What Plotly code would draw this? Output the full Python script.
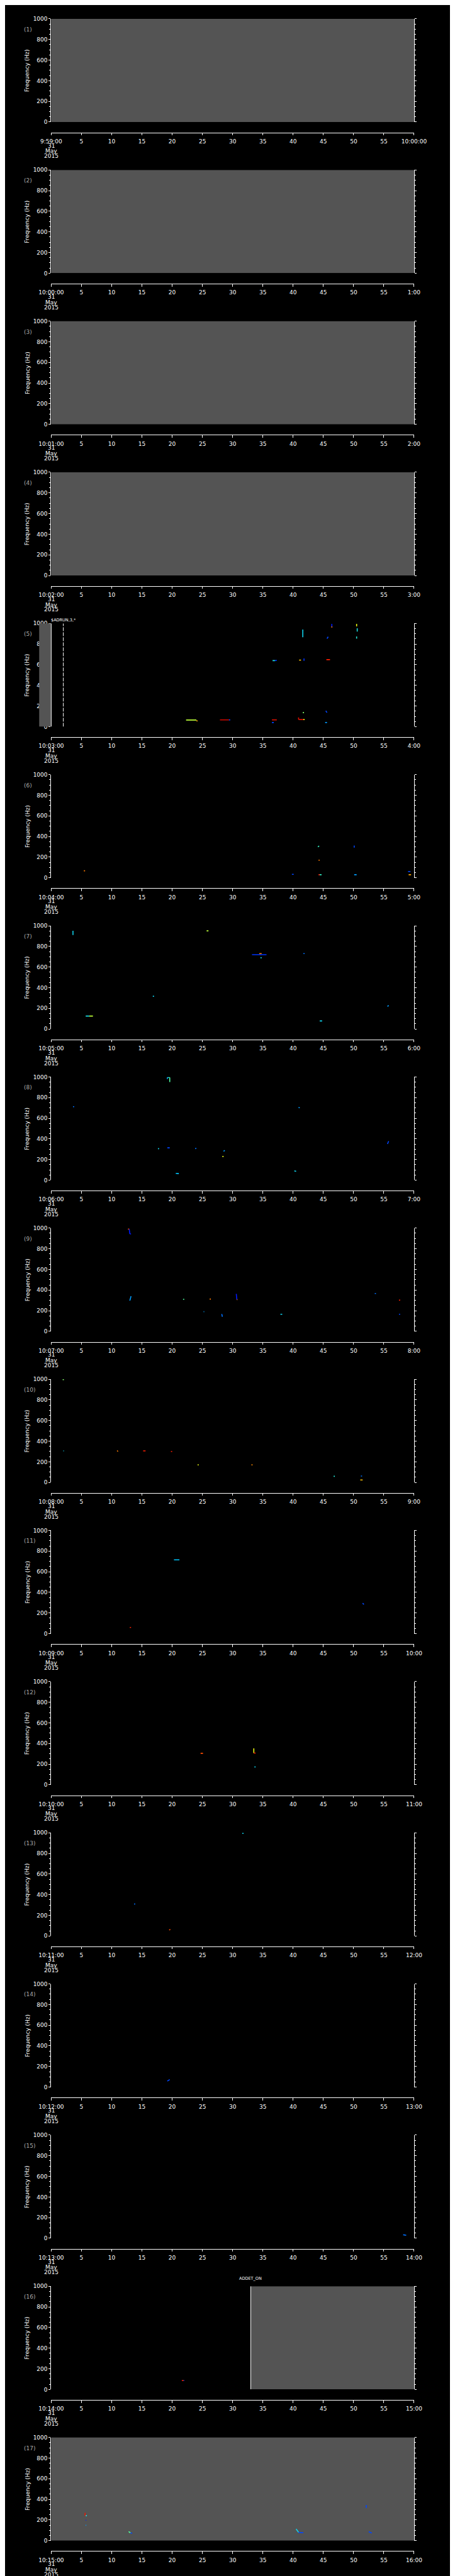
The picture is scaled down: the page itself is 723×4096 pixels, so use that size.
import plotly.graph_objects as go
from plotly.colors import sample_colorscale

# ---------------------------------------------------------------- data
panel_ids = list(range(1, 18))
start_labels = ["9:59:00", "10:00:00", "10:01:00", "10:02:00", "10:03:00", "10:04:00",
                "10:05:00", "10:06:00", "10:07:00", "10:08:00", "10:09:00", "10:10:00",
                "10:11:00", "10:12:00", "10:13:00", "10:14:00", "10:15:00"]
end_labels = ["10:00:00", "1:00", "2:00", "3:00", "4:00", "5:00", "6:00", "7:00", "8:00",
              "9:00", "10:00", "11:00", "12:00", "13:00", "14:00", "15:00", "16:00"]
sec_ticks = [0, 5, 10, 15, 20, 25, 30, 35, 40, 45, 50, 55, 60]
mid_tick_labels = ["5", "10", "15", "20", "25", "30", "35", "40", "45", "50", "55"]
date_lines = ["31", "May", "2015"]
freq_ticks = [0, 200, 400, 600, 800, 1000]
freq_range = [0, 1000]
sec_range = [0, 60]
y_title = "Frequency (Hz)"

# grey "no data" spans (seconds within each panel's minute)
nodata_spans = {1: [(0, 60)], 2: [(0, 60)], 3: [(0, 60)], 4: [(0, 60)],
                5: [(-2, 0)], 16: [(33, 60)], 17: [(0, 60)]}

# event markers: panel, second, label
event_panel = [5, 16]
event_sec = [2.0, 33.0]
event_text = ["$ADRUN,3,*", "ADDET_ON"]

# spectral marks: (t0, t1, f0, f1, level on colour scale)
marks = {
    5: [(22.3, 24.0, 64, 64, 0.6), (24.0, 24.2, 57, 55, 0.76), (27.9, 29.4, 66, 66, 0.97),
        (29.4, 29.6, 66, 66, 0.2), (36.5, 37.3, 66, 66, 0.95), (36.5, 36.8, 40, 40, 0.2),
        (40.9, 40.9, 89, 69, 0.95), (40.9, 41.7, 69, 69, 0.95), (41.7, 41.9, 69, 69, 0.65),
        (41.6, 41.8, 136, 136, 0.55), (45.4, 45.6, 153, 136, 0.2), (45.3, 45.6, 40, 40, 0.3),
        (36.6, 37.0, 640, 640, 0.4), (37.0, 37.3, 640, 642, 0.18), (41.0, 41.3, 645, 645, 0.72),
        (41.8, 41.8, 660, 638, 0.18), (45.5, 46.1, 649, 649, 0.9), (41.6, 41.6, 941, 867, 0.38),
        (45.6, 45.8, 853, 871, 0.2), (46.4, 46.4, 996, 967, 0.15), (46.3, 46.5, 965, 965, 0.8),
        (50.5, 50.5, 996, 971, 0.65), (50.6, 50.6, 953, 921, 0.4), (50.5, 50.5, 874, 853, 0.42)],
    6: [(5.4, 5.6, 68, 68, 0.8), (39.8, 40.1, 34, 34, 0.2), (44.1, 44.3, 299, 309, 0.45),
        (44.2, 44.4, 171, 171, 0.8), (44.2, 44.4, 30, 30, 0.9), (44.4, 44.7, 30, 30, 0.45),
        (50.1, 50.1, 313, 293, 0.2), (50.1, 50.5, 30, 30, 0.3), (59.0, 59.4, 61, 61, 0.2),
        (59.1, 59.5, 30, 30, 0.75)],
    7: [(3.6, 3.6, 951, 910, 0.38), (25.7, 26.0, 951, 951, 0.6), (33.2, 35.6, 720, 720, 0.18),
        (34.4, 34.8, 731, 731, 0.8), (34.6, 34.8, 690, 690, 0.38), (41.7, 41.9, 731, 731, 0.25),
        (16.8, 17.0, 317, 317, 0.38), (5.7, 6.3, 125, 125, 0.4), (6.3, 6.9, 125, 125, 0.6),
        (44.4, 44.8, 78, 78, 0.38), (55.6, 55.8, 218, 228, 0.3)],
    8: [(19.2, 19.6, 995, 995, 0.42), (19.6, 19.6, 995, 950, 0.5), (19.2, 19.2, 995, 980, 0.3),
        (3.6, 3.8, 711, 711, 0.25), (40.9, 41.1, 705, 700, 0.3), (17.7, 17.8, 310, 300, 0.38),
        (19.2, 19.6, 313, 313, 0.2), (23.8, 24.0, 305, 309, 0.25), (28.5, 28.7, 280, 288, 0.3),
        (28.3, 28.5, 229, 229, 0.65), (20.6, 21.1, 65, 63, 0.35), (40.2, 40.5, 90, 85, 0.38),
        (55.6, 55.8, 350, 378, 0.2)],
    9: [(12.7, 12.9, 990, 990, 0.85), (12.9, 13.0, 990, 944, 0.15), (13.0, 13.2, 944, 944, 0.15),
        (13.0, 13.2, 297, 340, 0.3), (21.8, 22.0, 310, 310, 0.5), (26.2, 26.4, 312, 312, 0.8),
        (30.6, 30.7, 362, 307, 0.15), (30.7, 30.8, 307, 307, 0.8), (25.2, 25.3, 190, 190, 0.3),
        (28.2, 28.3, 167, 141, 0.25), (37.9, 38.2, 165, 165, 0.38), (53.5, 53.7, 366, 366, 0.25),
        (57.5, 57.7, 301, 303, 0.9), (57.5, 57.7, 165, 165, 0.2)],
    10: [(1.9, 2.1, 996, 996, 0.55), (2.0, 2.1, 306, 306, 0.38), (10.9, 11.05, 309, 300, 0.8),
         (15.2, 15.6, 306, 306, 0.9), (19.8, 20.0, 300, 300, 0.9), (24.2, 24.4, 170, 170, 0.65),
         (33.1, 33.3, 170, 170, 0.78), (46.7, 46.9, 60, 60, 0.42), (51.2, 51.4, 62, 62, 0.25),
         (51.1, 51.5, 24, 24, 0.72)],
    11: [(20.3, 21.2, 715, 715, 0.35), (51.5, 51.7, 295, 282, 0.2), (13.0, 13.2, 60, 60, 0.9)],
    12: [(24.7, 25.1, 305, 305, 0.85), (33.5, 33.5, 353, 307, 0.65), (33.5, 33.8, 307, 307, 0.9),
         (33.6, 33.8, 173, 173, 0.38)],
    13: [(31.6, 31.8, 994, 994, 0.38), (13.7, 13.9, 309, 309, 0.25), (19.5, 19.7, 58, 62, 0.85)],
    14: [(19.2, 19.6, 58, 73, 0.2)],
    15: [(58.2, 58.7, 34, 29, 0.25)],
    16: [(21.6, 21.9, 86, 86, 0.9), (21.9, 22.0, 86, 86, 0.2)],
    17: [(5.6, 5.6, 269, 241, 0.92), (5.7, 5.9, 241, 241, 0.4), (5.7, 5.8, 198, 198, 0.15),
         (5.7, 5.8, 148, 148, 0.3), (12.8, 13.1, 87, 76, 0.5), (13.1, 13.4, 73, 73, 0.2),
         (40.5, 40.9, 112, 80, 0.38), (40.9, 41.7, 78, 76, 0.2), (52.1, 52.1, 344, 317, 0.2),
         (52.5, 53.0, 87, 73, 0.2)],
}

# ---------------------------------------------------------------- style / layout
FIG_W, FIG_H = 723, 4096
REF_W, REF_H = 1024.0, 5802.0
PITCH, TOP0, PLOT_H, AXIS_GAP = 341.3, 24.0, 233.0, 23.7
PLOT_L, PLOT_R = 80.0, 944.5
GREY = "rgb(84,84,84)"
FONT = "DejaVu Sans"
JET = [[0.0, "rgb(0,0,140)"], [0.12, "rgb(0,0,255)"], [0.35, "rgb(0,200,255)"],
       [0.5, "rgb(80,255,160)"], [0.64, "rgb(232,255,16)"], [0.78, "rgb(255,140,0)"],
       [0.9, "rgb(255,30,0)"], [1.0, "rgb(160,0,0)"]]


def px(x):
    return x / REF_W


def py(y):
    return 1 - y / REF_H


fig = go.Figure()
annotations = []
layout = dict(width=FIG_W, height=FIG_H, autosize=False,
              margin=dict(l=0, r=0, t=0, b=0, pad=0),
              paper_bgcolor="black", plot_bgcolor="rgba(0,0,0,0)",
              showlegend=False, font=dict(family=FONT, size=9, color="white"))

for i in panel_ids:
    sfx = "" if i == 1 else str(i)
    xa, ya = "x" + sfx, "y" + sfx
    top = TOP0 + (i - 1) * PITCH
    bot = top + PLOT_H
    line = bot + AXIS_GAP
    layout["xaxis" + sfx] = dict(
        domain=[px(PLOT_L), px(PLOT_R)], range=sec_range, anchor="free", position=py(line),
        showline=True, linecolor="white", linewidth=1, ticks="outside", ticklen=3.5,
        tickcolor="white", tickwidth=1, tickvals=sec_ticks,
        ticktext=[start_labels[i - 1]] + mid_tick_labels + [end_labels[i - 1]],
        showgrid=False, zeroline=False, fixedrange=True,
        tickfont=dict(family=FONT, size=9, color="white"), ticklabelstandoff=2)
    layout["yaxis" + sfx] = dict(
        domain=[py(bot), py(top)], range=freq_range, anchor=xa, showline=True,
        linecolor="white", linewidth=1, mirror="ticks", ticks="outside", ticklen=3,
        tickcolor="white", tickwidth=1, tickvals=freq_ticks, showgrid=False, zeroline=False,
        minor=dict(dtick=50, ticks="outside", ticklen=2, tickcolor="white", tickwidth=1,
                   showgrid=False),
        tickfont=dict(family=FONT, size=9, color="white"), fixedrange=True)

    # no-data spans
    for (t0, t1) in nodata_spans.get(i, []):
        if t0 < sec_range[0]:
            # strip left of the axis: own axis sharing this panel's scale
            xid = "x18"
            span = sec_range[1] - sec_range[0]
            left = PLOT_L - (sec_range[0] - t0) * (PLOT_R - PLOT_L) / span
            layout["xaxis18"] = dict(domain=[px(left), px(PLOT_R)], range=[t0, sec_range[1]],
                                     visible=False, anchor=ya, fixedrange=True)
            fig.add_trace(go.Scatter(x=[t0, t1, t1, t0, t0], y=[0, 0, 1000, 1000, 0],
                                     fill="toself", fillcolor=GREY, mode="lines",
                                     line=dict(width=0, color=GREY), xaxis=xid, yaxis=ya,
                                     hoverinfo="skip"))
            fig.add_trace(go.Scatter(x=[t1, t1], y=freq_range, mode="lines",
                                     line=dict(width=1, color="white"), xaxis=xid, yaxis=ya,
                                     hoverinfo="skip"))
        else:
            fig.add_trace(go.Scatter(x=[t0, t1, t1, t0, t0], y=[0, 0, 1000, 1000, 0],
                                     fill="toself", fillcolor=GREY, mode="lines",
                                     line=dict(width=0, color=GREY), xaxis=xa, yaxis=ya,
                                     hoverinfo="skip"))

    # marks grouped by colour level
    groups = {}
    for (t0, t1, f0, f1, lv) in marks.get(i, []):
        g = groups.setdefault(lv, ([], []))
        g[0].extend([t0, t1, None])
        g[1].extend([f0, f1, None])
    for lv, (xs, ys) in groups.items():
        col = sample_colorscale(JET, [lv])[0]
        fig.add_trace(go.Scatter(x=xs, y=ys, mode="lines", line=dict(width=1.6, color=col),
                                 xaxis=xa, yaxis=ya, hoverinfo="skip"))

    # panel number
    annotations.append(dict(text="(%d)" % i, x=px(12), y=py(top + 24), xref="paper",
                            yref="paper", xanchor="left", yanchor="middle", showarrow=False,
                            font=dict(family=FONT, size=9, color="rgb(170,170,170)")))
    # y title
    annotations.append(dict(text=y_title, x=px(23), y=py((top + bot) / 2), xref="paper",
                            yref="paper", xanchor="center", yanchor="middle", textangle=-90,
                            showarrow=False, font=dict(family=FONT, size=9, color="white")))
    # date lines under the first tick
    for k, (txt, off) in enumerate(zip(date_lines, [29.6, 42.3, 53.6])):
        annotations.append(dict(text=txt, x=sec_ticks[0], xref=xa, y=py(line + off),
                                yref="paper", xanchor="center", yanchor="middle",
                                showarrow=False,
                                font=dict(family=FONT, size=9, color="white")))

# events
for ep, es, et in zip(event_panel, event_sec, event_text):
    sfx = "" if ep == 1 else str(ep)
    top = TOP0 + (ep - 1) * PITCH
    dash = "6px,2px" if et.startswith("$") else "solid"
    off = 7.5 if et.startswith("$") else 17
    fig.add_trace(go.Scatter(x=[es, es], y=freq_range, mode="lines",
                             line=dict(width=1, color="white", dash=dash),
                             xaxis="x" + sfx, yaxis="y" + sfx, hoverinfo="skip"))
    annotations.append(dict(text=et, x=es, xref="x" + sfx, y=py(top - off), yref="paper",
                            xanchor="center", yanchor="middle", showarrow=False,
                            font=dict(family=FONT, size=6.5, color="white")))

layout["annotations"] = annotations
fig.update_layout(**layout)
fig.write_html("out.html")
